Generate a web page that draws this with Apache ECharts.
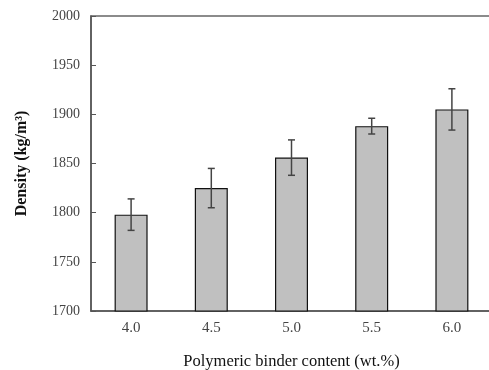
<!DOCTYPE html>
<html>
<head>
<meta charset="utf-8">
<script src="https://cdn.jsdelivr.net/npm/echarts@6/dist/echarts.min.js"></script>
<style>
  html, body { margin: 0; padding: 0; background: #fff; }
  #chart { width: 489px; height: 370px; }
</style>
</head>
<body>
<div id="chart"></div>
<script>
// Binder content (wt.%) categories
var categories = ['4.0', '4.5', '5.0', '5.5', '6.0'];
// Mean density (kg/m3)
var density = [1798, 1825, 1856, 1888, 1905];
// Standard deviation (kg/m3)
var deviation = [16, 20, 18, 8, 21];
var yTicks = { min: 1700, max: 2000, step: 50 };

var serif = '"Liberation Serif", "DejaVu Serif", serif';

var errorData = categories.map(function (c, i) {
  return [i, density[i] - deviation[i], density[i] + deviation[i]];
});

var chart = echarts.init(document.getElementById('chart'), null, { renderer: 'canvas' });
chart.setOption({
  animation: false,
  backgroundColor: '#fff',
  grid: {
    left: 91, right: -3, top: 16, bottom: 59,
    outerBoundsMode: 'none',
    containLabel: false,
    show: true, borderColor: '#666', borderWidth: 1.5, backgroundColor: 'transparent'
  },
  xAxis: {
    type: 'category',
    data: categories,
    name: 'Polymeric binder content (wt.%)',
    nameLocation: 'middle',
    nameGap: 42,
    nameTextStyle: { fontFamily: serif, fontSize: 16.5, color: '#111' },
    axisLine: { lineStyle: { color: '#555', width: 1.5 } },
    axisTick: { inside: true, length: 4, lineStyle: { color: '#555' } },
    axisLabel: { fontFamily: serif, fontSize: 15, color: '#444', margin: 10 },
    splitLine: { show: false }
  },
  yAxis: {
    type: 'value',
    min: yTicks.min, max: yTicks.max, interval: yTicks.step,
    name: 'Density (kg/m³)',
    nameLocation: 'middle',
    nameGap: 61,
    nameTextStyle: { fontFamily: serif, fontSize: 16, fontWeight: 'bold', color: '#111' },
    axisLine: { show: true, lineStyle: { color: '#555', width: 1.5 } },
    axisTick: { show: true, inside: true, length: 5, lineStyle: { color: '#555' } },
    axisLabel: {
      fontFamily: serif, fontSize: 14, color: '#444', margin: 11,
      formatter: function (v) { return String(v); }
    },
    splitLine: { show: false }
  },
  series: [
    {
      type: 'bar',
      data: density,
      barWidth: 33,
      itemStyle: { color: '#c0c0c0', borderColor: '#111', borderWidth: 1.2 }
    },
    {
      type: 'custom',
      data: errorData,
      z: 10,
      renderItem: function (params, api) {
        var x = api.value(0);
        var lo = api.coord([x, api.value(1)]);
        var hi = api.coord([x, api.value(2)]);
        var cap = 3.5;
        var style = { stroke: '#444', lineWidth: 1.5 };
        return {
          type: 'group',
          children: [
            { type: 'line', shape: { x1: hi[0], y1: hi[1], x2: lo[0], y2: lo[1] }, style: style },
            { type: 'line', shape: { x1: hi[0] - cap, y1: hi[1], x2: hi[0] + cap, y2: hi[1] }, style: style },
            { type: 'line', shape: { x1: lo[0] - cap, y1: lo[1], x2: lo[0] + cap, y2: lo[1] }, style: style }
          ]
        };
      }
    }
  ]
});
</script>
</body>
</html>
